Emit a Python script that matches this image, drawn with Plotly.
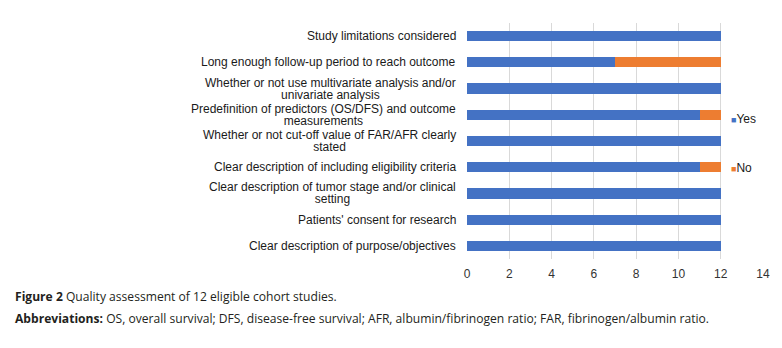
import plotly.graph_objects as go

# Quality items, listed bottom to top as they appear on the chart
items = [
    "Clear description of purpose/objectives",
    "Patients' consent for research",
    "Clear description of tumor stage and/or clinical<br>setting",
    "Clear description of including eligibility criteria",
    "Whether or not cut-off value of FAR/AFR clearly<br>stated",
    "Predefinition of predictors (OS/DFS) and outcome<br>measurements",
    "Whether or not use multivariate analysis and/or<br>univariate analysis",
    "Long enough follow-up period to reach outcome",
    "Study limitations considered",
]
yes_counts = [12, 12, 12, 11, 12, 11, 12, 7, 12]
no_counts = [0, 0, 0, 1, 0, 1, 0, 5, 0]
series_names = ["Yes", "No"]
series_colors = ["#4472C4", "#ED7D31"]
x_ticks = [0, 2, 4, 6, 8, 10, 12, 14]

positions = list(range(len(items)))

fig = go.Figure()
for name, vals, col in zip(series_names, [yes_counts, no_counts], series_colors):
    fig.add_trace(go.Bar(
        y=positions, x=vals, orientation="h", name=name,
        marker=dict(color=col, line=dict(width=0)),
        showlegend=False, hoverinfo="x+name",
    ))

FONT = "Liberation Sans, Arial, sans-serif"
W, H = 782, 348
L, R, T, B = 467, 19, 23, 89
pw, ph = W - L - R, H - T - B


def px_x(x):
    return (x - L) / pw


def px_y(y):
    return 1 - (y - T) / ph


annotations = []
# Category labels: lines centred on each other, block right-aligned at the axis.
# The small base size keeps the line pitch tight; each line is drawn at 12px.
for pos, txt in zip(positions, items):
    lines = txt.split("<br>")
    styled = "<br>".join(f"<span style='font-size:12px'>{ln}</span>" for ln in lines)
    annotations.append(dict(
        x=0, xref="paper", y=pos, yref="y", text=styled, showarrow=False,
        xanchor="right", yanchor="middle", align="center", xshift=-9,
        font=dict(family=FONT, size=9.6, color="#1a1a1a"),
    ))

# Legend entries drawn as small coloured squares beside the series names
legend_y = [119, 168]
for name, col, py in zip(series_names, series_colors, legend_y):
    annotations.append(dict(
        x=px_x(729), xref="paper", y=px_y(py), yref="paper", showarrow=False,
        xanchor="left", yanchor="middle",
        text=f"<span style='color:{col};font-size:9px'>■</span>{name}",
        font=dict(family=FONT, size=12, color="#1a1a1a"),
    ))

# Figure caption below the chart
cap_font = dict(family="Open Sans, Lato, sans-serif", size=12.1, color="#231f20")
caption = [
    (296, "<b>Figure 2</b> Quality assessment of 12 eligible cohort studies."),
    (318, "<b>Abbreviations:</b> OS, overall survival; DFS, disease-free survival; "
          "AFR, albumin/fibrinogen ratio; FAR, fibrinogen/albumin ratio."),
]
for py, txt in caption:
    annotations.append(dict(
        x=px_x(13), xref="paper", y=px_y(py), yref="paper", showarrow=False,
        xanchor="left", yanchor="middle", text=txt, font=cap_font,
    ))

fig.update_layout(
    width=W, height=H,
    margin=dict(l=L, r=R, t=T, b=B, pad=0),
    barmode="stack", bargap=0.61,
    plot_bgcolor="white", paper_bgcolor="white",
    annotations=annotations,
    xaxis=dict(
        range=[0, 14], tickvals=x_ticks, ticktext=[str(v) for v in x_ticks],
        showgrid=True, gridcolor="#d9d9d9", gridwidth=1, zeroline=False,
        showline=False, ticks="", ticklabelstandoff=6,
        tickfont=dict(family=FONT, size=12, color="#333333"),
    ),
    yaxis=dict(
        range=[-0.5, len(items) - 0.5], showticklabels=False, showgrid=False,
        zeroline=False, showline=False, ticks="",
    ),
    showlegend=False,
)

fig.write_html("out.html")
